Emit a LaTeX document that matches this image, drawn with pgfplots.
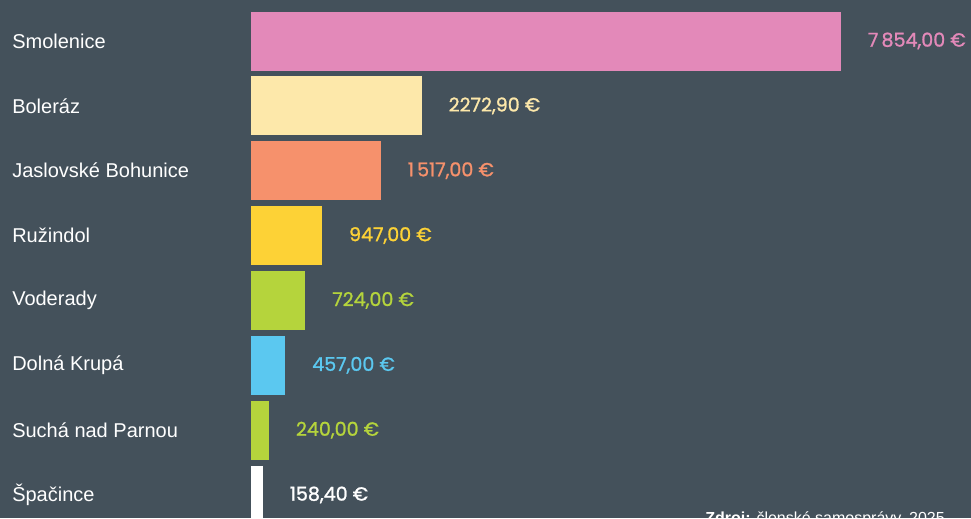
\documentclass[border=0pt]{standalone}
\usepackage{pgfplots}
\pgfplotsset{compat=1.18}
\usepackage{fontspec}
\setmainfont{Liberation Sans}
\newfontfamily\valfont{Poppins}[FakeBold=1.2]
\definecolor{bg}{HTML}{44515B}
\definecolor{cpink}{HTML}{E389B9}
\definecolor{ccream}{HTML}{FDE8AA}
\definecolor{csalmon}{HTML}{F6916C}
\definecolor{cyellow}{HTML}{FDD236}
\definecolor{cgreen}{HTML}{B5D43C}
\definecolor{cblue}{HTML}{5BC8F0}
\begin{document}
\begin{tikzpicture}
\useasboundingbox (0,0) rectangle (728.25pt,388.5pt);
\clip (0,0) rectangle (728.25pt,388.5pt);
\fill[bg] (0,0) rectangle (728.25pt,388.5pt);
\begin{axis}[
  at={(188.25pt,17.25pt)}, anchor=origin,
  scale only axis, width=442.5pt, height=340.5pt,
  xmin=0, xmax=7854, ymin=0, ymax=7,
  enlargelimits=false, clip=false,
  axis line style={draw=none}, major tick length=0pt,
  xtick=\empty,
  ytick={0,1,2,3,4,5,6,7},
  yticklabels={Špačince,Suchá nad Parnou,Dolná Krupá,Voderady,Ružindol,Jaslovské Bohunice,Boleráz,Smolenice},
  yticklabel style={anchor=west, xshift=-179.25pt, inner sep=0pt, font=\fontsize{15}{18}\selectfont, text=white},
  every axis plot/.append style={xbar, bar shift=0pt, bar width=44.25pt, draw=none},
  point meta=explicit symbolic,
  nodes near coords,
  every node near coord/.append style={anchor=west, xshift=20pt, inner sep=0pt, font=\valfont\fontsize{14.3}{17}\selectfont},
]
\addplot[fill=cpink, every node near coord/.append style={text=cpink}] coordinates {(7854,7) [7\,854,00 €]};
\addplot[fill=ccream, every node near coord/.append style={text=ccream}] coordinates {(2272.9,6) [2272,90 €]};
\addplot[fill=csalmon, every node near coord/.append style={text=csalmon}] coordinates {(1730,5) [1\,517,00 €]};
\addplot[fill=cyellow, every node near coord/.append style={text=cyellow}] coordinates {(947,4) [947,00 €]};
\addplot[fill=cgreen, every node near coord/.append style={text=cgreen}] coordinates {(724,3) [724,00 €]};
\addplot[fill=cblue, every node near coord/.append style={text=cblue}] coordinates {(457,2) [457,00 €]};
\addplot[fill=cgreen, every node near coord/.append style={text=cgreen}] coordinates {(240,1) [240,00 €]};
\addplot[fill=white, every node near coord/.append style={text=white}] coordinates {(158.4,0) [158,40 €]};
\end{axis}
\node[anchor=base west, inner sep=0pt, text=white, font=\fontsize{12}{14}\selectfont] at (528.75pt,-4.1pt) {\textbf{Zdroj:} členské samosprávy, 2025};
\end{tikzpicture}
\end{document}
